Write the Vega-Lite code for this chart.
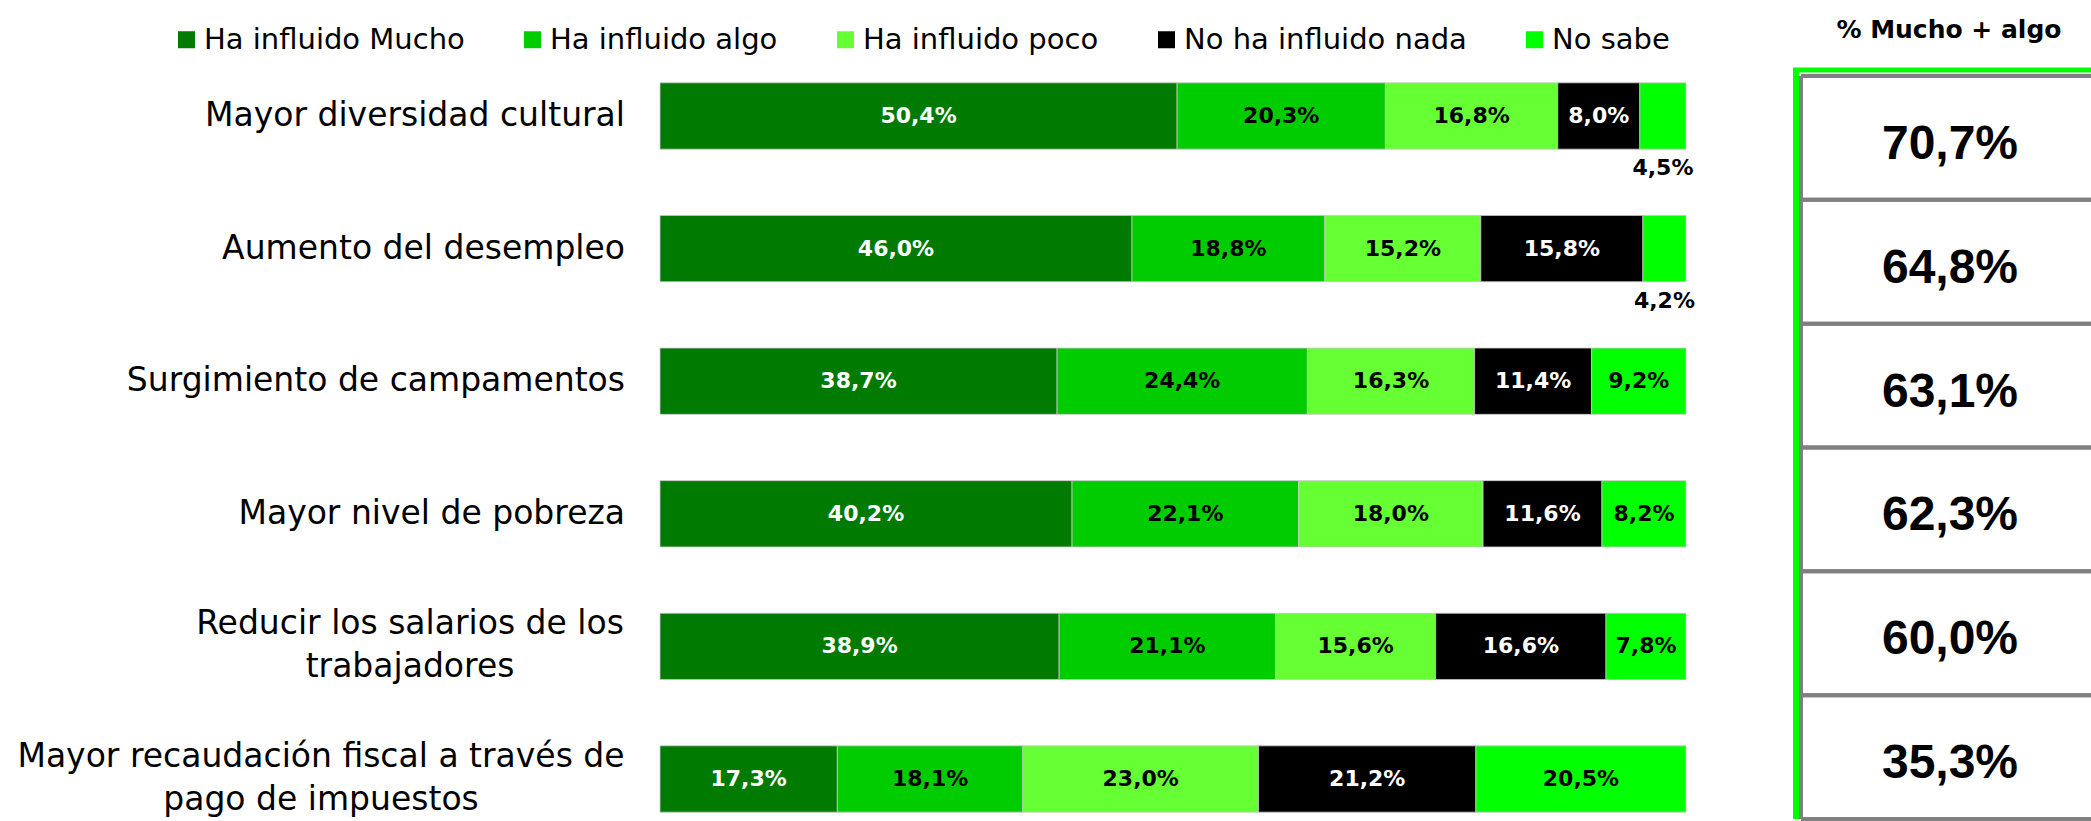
{
  "$schema": "https://vega.github.io/schema/vega-lite/v6.json",
  "autosize": {"type": "none"},
  "padding": {"left": 660, "top": 76, "right": 405, "bottom": 2},
  "width": 1026,
  "height": 743,
  "config": {
    "locale": {"number": {"decimal": ",", "thousands": ".", "grouping": [3], "currency": ["", " €"]}},
    "view": {"stroke": null},
    "font": "DejaVu Sans"
  },
  "datasets": {
    "resp": [
      {"cat": "Mayor diversidad cultural", "resp": "Ha influido Mucho", "v": 0.504},
      {"cat": "Mayor diversidad cultural", "resp": "Ha influido algo", "v": 0.203},
      {"cat": "Mayor diversidad cultural", "resp": "Ha influido poco", "v": 0.168},
      {"cat": "Mayor diversidad cultural", "resp": "No ha influido nada", "v": 0.080},
      {"cat": "Mayor diversidad cultural", "resp": "No sabe", "v": 0.045},
      {"cat": "Aumento del desempleo", "resp": "Ha influido Mucho", "v": 0.460},
      {"cat": "Aumento del desempleo", "resp": "Ha influido algo", "v": 0.188},
      {"cat": "Aumento del desempleo", "resp": "Ha influido poco", "v": 0.152},
      {"cat": "Aumento del desempleo", "resp": "No ha influido nada", "v": 0.158},
      {"cat": "Aumento del desempleo", "resp": "No sabe", "v": 0.042},
      {"cat": "Surgimiento de campamentos", "resp": "Ha influido Mucho", "v": 0.387},
      {"cat": "Surgimiento de campamentos", "resp": "Ha influido algo", "v": 0.244},
      {"cat": "Surgimiento de campamentos", "resp": "Ha influido poco", "v": 0.163},
      {"cat": "Surgimiento de campamentos", "resp": "No ha influido nada", "v": 0.114},
      {"cat": "Surgimiento de campamentos", "resp": "No sabe", "v": 0.092},
      {"cat": "Mayor nivel de pobreza", "resp": "Ha influido Mucho", "v": 0.402},
      {"cat": "Mayor nivel de pobreza", "resp": "Ha influido algo", "v": 0.221},
      {"cat": "Mayor nivel de pobreza", "resp": "Ha influido poco", "v": 0.180},
      {"cat": "Mayor nivel de pobreza", "resp": "No ha influido nada", "v": 0.116},
      {"cat": "Mayor nivel de pobreza", "resp": "No sabe", "v": 0.082},
      {"cat": "Reducir los salarios de los\ntrabajadores", "resp": "Ha influido Mucho", "v": 0.389},
      {"cat": "Reducir los salarios de los\ntrabajadores", "resp": "Ha influido algo", "v": 0.211},
      {"cat": "Reducir los salarios de los\ntrabajadores", "resp": "Ha influido poco", "v": 0.156},
      {"cat": "Reducir los salarios de los\ntrabajadores", "resp": "No ha influido nada", "v": 0.166},
      {"cat": "Reducir los salarios de los\ntrabajadores", "resp": "No sabe", "v": 0.078},
      {"cat": "Mayor recaudación fiscal a través de\npago de impuestos", "resp": "Ha influido Mucho", "v": 0.173},
      {"cat": "Mayor recaudación fiscal a través de\npago de impuestos", "resp": "Ha influido algo", "v": 0.181},
      {"cat": "Mayor recaudación fiscal a través de\npago de impuestos", "resp": "Ha influido poco", "v": 0.230},
      {"cat": "Mayor recaudación fiscal a través de\npago de impuestos", "resp": "No ha influido nada", "v": 0.212},
      {"cat": "Mayor recaudación fiscal a través de\npago de impuestos", "resp": "No sabe", "v": 0.205}
    ],
    "tabla": [
      {"cat": "Mayor diversidad cultural", "m": 0.707},
      {"cat": "Aumento del desempleo", "m": 0.648},
      {"cat": "Surgimiento de campamentos", "m": 0.631},
      {"cat": "Mayor nivel de pobreza", "m": 0.623},
      {"cat": "Reducir los salarios de los\ntrabajadores", "m": 0.600},
      {"cat": "Mayor recaudación fiscal a través de\npago de impuestos", "m": 0.353}
    ]
  },
  "resolve": {"scale": {"y": "independent"}, "axis": {"y": "independent"}},
  "layer": [
    {
      "data": {"name": "resp"},
      "encoding": {
        "y": {
          "field": "cat", "type": "nominal",
          "sort": ["Mayor diversidad cultural", "Aumento del desempleo", "Surgimiento de campamentos", "Mayor nivel de pobreza", "Reducir los salarios de los\ntrabajadores", "Mayor recaudación fiscal a través de\npago de impuestos"],
          "scale": {"paddingInner": 0.5, "paddingOuter": 0.0516},
          "axis": null
        }
      },
      "layer": [
        {
          "mark": {"type": "bar", "stroke": "#c8c8c8", "strokeWidth": 0.8},
          "encoding": {
            "x": {"field": "v", "type": "quantitative", "stack": "normalize", "scale": {"domain": [0, 1]}, "axis": null},
            "color": {
              "field": "resp", "type": "nominal",
              "scale": {"domain": ["Ha influido Mucho", "Ha influido algo", "Ha influido poco", "No ha influido nada", "No sabe"], "range": ["#007A00", "#00CC00", "#66FF33", "#000000", "#00FF00"]},
              "legend": {
                "orient": "none", "legendX": -488, "legendY": -51, "direction": "horizontal", "title": null,
                "labelFont": "DejaVu Sans", "labelFontSize": 29, "labelColor": "black", "labelLimit": 900,
                "symbolType": "square", "symbolSize": 289, "symbolStrokeWidth": 0, "symbolOpacity": 1,
                "labelOffset": 3, "columnPadding": 53, "padding": 0
              }
            },
            "order": {"field": "resp", "type": "nominal"}
          }
        },
        {
          "mark": {"type": "text", "font": "DejaVu Sans", "fontWeight": "bold", "fontSize": 22, "align": "center", "baseline": "middle"},
          "encoding": {
            "x": {"field": "v", "type": "quantitative", "stack": "normalize", "bandPosition": 0.5, "scale": {"domain": [0, 1]}},
            "detail": {"field": "resp", "type": "nominal"},
            "order": {"field": "resp", "type": "nominal"},
            "text": {"condition": {"test": "datum.v < 0.05", "value": ""}, "field": "v", "type": "quantitative", "format": ".1%"},
            "color": {"condition": {"test": "datum.resp === 'Ha influido Mucho' || datum.resp === 'No ha influido nada'", "value": "white"}, "value": "black"}
          }
        },
        {
          "mark": {"type": "text", "font": "DejaVu Sans", "fontWeight": "bold", "fontSize": 22, "align": "center", "baseline": "middle", "dy": 52, "color": "black"},
          "encoding": {
            "x": {"field": "v", "type": "quantitative", "stack": "normalize", "bandPosition": 0.5, "scale": {"domain": [0, 1]}},
            "detail": {"field": "resp", "type": "nominal"},
            "order": {"field": "resp", "type": "nominal"},
            "text": {"condition": {"test": "datum.v >= 0.05", "value": ""}, "field": "v", "type": "quantitative", "format": ".1%"}
          }
        },
        {
          "data": {"name": "tabla"},
          "mark": {
            "type": "text", "font": "DejaVu Sans", "fontSize": 33, "color": "black", "baseline": "middle",
            "lineBreak": "\n", "lineHeight": 43,
            "align": {"expr": "length(datum.cat) > 30 ? 'center' : 'right'"},
            "dx": {"expr": "substring(datum.cat, 0, 7) === 'Reducir' ? -215 : (substring(datum.cat, 0, 11) === 'Mayor recau' ? -304 : 0)"},
            "dy": {"expr": "length(datum.cat) > 30 ? -22 : 0"}
          },
          "encoding": {
            "x": {"datum": -0.0341, "type": "quantitative", "scale": {"domain": [0, 1]}},
            "text": {"field": "cat", "type": "nominal"}
          }
        }
      ]
    },
    {
      "data": {"name": "tabla"},
      "layer": [
        {
          "mark": {"type": "rule", "color": "#00FF00", "strokeWidth": 5, "yOffset": -8, "y2Offset": 2},
          "encoding": {"x": {"datum": 1.1072, "type": "quantitative", "scale": {"domain": [0, 1]}}}
        },
        {
          "mark": {"type": "rule", "color": "#808080", "strokeWidth": 4},
          "encoding": {"x": {"datum": 1.1121, "type": "quantitative", "scale": {"domain": [0, 1]}}}
        },
        {
          "mark": {"type": "rule", "color": "#808080", "strokeWidth": 4},
          "encoding": {
            "y": {"field": "cat", "type": "nominal", "bandPosition": 0, "sort": null, "scale": {"paddingInner": 0, "paddingOuter": 0}, "axis": null},
            "x": {"datum": 1.1121, "type": "quantitative", "scale": {"domain": [0, 1]}},
            "x2": {"datum": 1.5}
          }
        },
        {
          "mark": {"type": "rule", "color": "#808080", "strokeWidth": 4},
          "encoding": {
            "y": {"field": "cat", "type": "nominal", "bandPosition": 1, "sort": null, "scale": {"paddingInner": 0, "paddingOuter": 0}, "axis": null},
            "x": {"datum": 1.1121, "type": "quantitative", "scale": {"domain": [0, 1]}},
            "x2": {"datum": 1.5}
          }
        },
        {
          "transform": [{"filter": "datum.cat === 'Mayor diversidad cultural'"}],
          "mark": {"type": "rule", "color": "#00FF00", "strokeWidth": 5, "yOffset": -6},
          "encoding": {
            "y": {"field": "cat", "type": "nominal", "bandPosition": 0, "sort": null, "scale": {"paddingInner": 0, "paddingOuter": 0}, "axis": null},
            "x": {"datum": 1.1048, "type": "quantitative", "scale": {"domain": [0, 1]}},
            "x2": {"datum": 1.5}
          }
        },
        {
          "transform": [{"filter": "datum.cat === 'Mayor diversidad cultural'"}],
          "mark": {"type": "text", "font": "DejaVu Sans", "fontWeight": "bold", "fontSize": 25, "align": "center", "baseline": "middle", "dy": -46, "color": "black"},
          "encoding": {
            "y": {"field": "cat", "type": "nominal", "bandPosition": 0, "sort": null, "scale": {"paddingInner": 0, "paddingOuter": 0}, "axis": null},
            "x": {"datum": 1.2563, "type": "quantitative", "scale": {"domain": [0, 1]}},
            "text": {"value": "% Mucho + algo"}
          }
        },
        {
          "mark": {"type": "text", "font": "Liberation Sans", "fontWeight": "bold", "fontSize": 48, "align": "center", "baseline": "middle", "dy": 7, "color": "black"},
          "encoding": {
            "y": {"field": "cat", "type": "nominal", "sort": null, "scale": {"paddingInner": 0, "paddingOuter": 0}, "axis": null},
            "x": {"datum": 1.2573, "type": "quantitative", "scale": {"domain": [0, 1]}},
            "text": {"field": "m", "type": "quantitative", "format": ".1%"}
          }
        }
      ]
    }
  ]
}
